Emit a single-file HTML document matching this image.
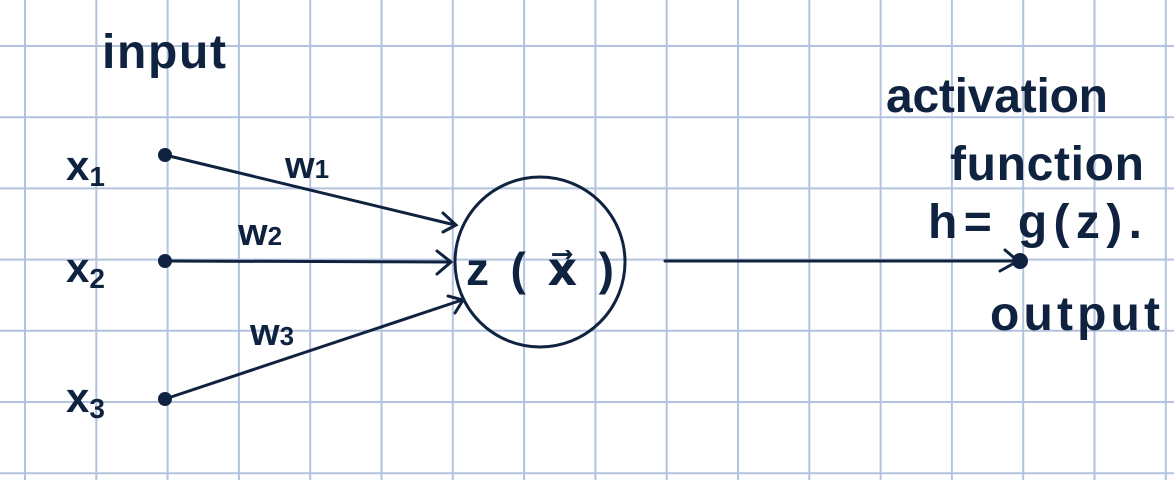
<!DOCTYPE html>
<html><head><meta charset="utf-8"><style>
body{margin:0;background:#fff}
svg{display:block}
text{font-family:"Liberation Sans",sans-serif;fill:#0f2340;font-weight:bold}
</style></head><body>
<svg width="1174" height="480" viewBox="0 0 1174 480">
<g id="grid" stroke="#b3c3de" stroke-width="2"></g>
<g stroke="#0f2340" stroke-width="3" fill="none" stroke-linecap="round">
<line x1="165" y1="155" x2="455" y2="225"/>
<polyline points="443,213 456,225 443,232"/>
<line x1="165" y1="261" x2="450" y2="262"/>
<polyline points="437,251 451,262 437,274"/>
<line x1="165" y1="399" x2="462" y2="300"/>
<polyline points="448,296 463,300 455,313"/>
<circle cx="540" cy="262" r="85"/>
<line x1="665" y1="261" x2="1018" y2="261"/>
<polyline points="1005,250 1018,261 1000,271"/>
</g>
<g fill="#0f2340">
<circle cx="165" cy="155" r="7"/>
<circle cx="165" cy="261" r="7"/>
<circle cx="165" cy="399" r="7"/>
<circle cx="1020" cy="261" r="8"/>
</g>
<text x="102" y="68" font-size="48" textLength="124">input</text>
<text x="66" y="180" font-size="42">x<tspan font-size="28" dy="6">1</tspan></text>
<text x="66" y="282" font-size="42">x<tspan font-size="28" dy="6">2</tspan></text>
<text x="66" y="412" font-size="42">x<tspan font-size="28" dy="6">3</tspan></text>
<text x="285" y="178" font-size="38">w<tspan font-size="26">1</tspan></text>
<text x="238" y="245" font-size="38">w<tspan font-size="26">2</tspan></text>
<text x="250" y="345" font-size="38">w<tspan font-size="26">3</tspan></text>
<text x="466" y="285" font-size="46" font-weight="normal" textLength="148">z ( x⃗ )</text>
<text x="886" y="112" font-size="48" textLength="222">activation</text>
<text x="950" y="180" font-size="48" textLength="194">function</text>
<text x="928" y="238" font-size="48" textLength="214">h= g(z).</text>
<text x="990" y="330" font-size="48" textLength="170">output</text>
</svg>
<script>
var g=document.getElementById('grid');
var xs=[],ys=[];
for(var i=0;i<17;i++)xs.push(25+i*71.3);
for(var j=0;j<7;j++)ys.push(46+j*71.2);
xs.forEach(function(x){var l=document.createElementNS('http://www.w3.org/2000/svg','line');
l.setAttribute('x1',x);l.setAttribute('x2',x);l.setAttribute('y1',0);l.setAttribute('y2',480);


g.appendChild(l);});
ys.forEach(function(y){var l=document.createElementNS('http://www.w3.org/2000/svg','line');
l.setAttribute('y1',y);l.setAttribute('y2',y);l.setAttribute('x1',0);l.setAttribute('x2',1174);


g.appendChild(l);});
</script>
</body></html>
